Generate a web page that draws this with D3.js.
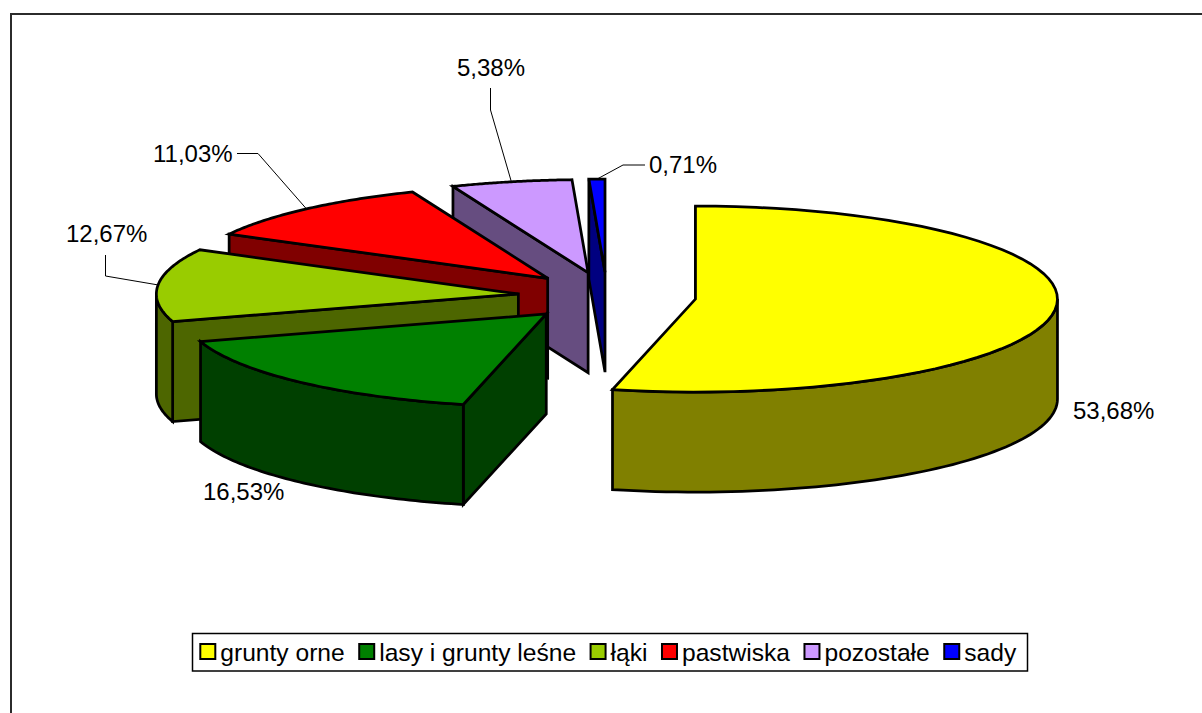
<!DOCTYPE html>
<html>
<head>
<meta charset="utf-8">
<script src="https://cdn.jsdelivr.net/npm/d3@7"></script>
<style>
    body { margin: 0; background: #fff; }
    svg { display: block; }
    text { font-family: "Liberation Sans", Arial, sans-serif; font-size: 24px; fill: #000; }
    .legend-label { font-size: 24.6px; }
</style>
</head>
<body>
<svg id="chart" width="1202" height="713"></svg>
<script>
const categories = ['grunty orne', 'lasy i grunty leśne', 'łąki', 'pastwiska', 'pozostałe', 'sady'];
const shares = [53.68, 16.53, 12.67, 11.03, 5.38, 0.71];
const colors = ['#ffff00', '#008000', '#99cc00', '#ff0000', '#cc99ff', '#0000ff'];

// label anchor (x, baseline) and the bend points of the leader line, per slice
const labelAnchors = [[1073, 419], [203, 500], [66, 242], [153, 162], [457, 76], [649, 173]];
const leaderBends = [
    [],
    [],
    [[105.5, 255], [105.5, 276]],
    [[237, 153.5], [258, 153.5]],
    [[490.5, 88], [490.5, 110]],
    [[645, 165], [623, 165]]
];

const cx = 607, cy = 296.3, rx = 362, ry = 93;
const depth = 100, explodeX = 0.246, explodeY = 0.26;

const x = d3.scaleLinear().domain([-1, 1]).range([cx - rx, cx + rx]);
const y = d3.scaleLinear().domain([-1, 1]).range([cy - ry, cy + ry]);
const fmt = d3.formatLocale({decimal: ',', thousands: ' ', grouping: [3], currency: ['', '']}).format('.2f');

const svg = d3.select('#chart');

// chart frame, open at the right and bottom of the window
svg.append('path')
    .attr('d', 'M11,713V14H1202')
    .attr('fill', 'none')
    .attr('stroke', '#2b2b2b')
    .attr('stroke-width', 2);

const slices = d3.pie().sort(null).value(d => d)(shares).map((s, i) => {
    const mid = (s.startAngle + s.endAngle) / 2;
    return {
        index: i,
        a0: s.startAngle,
        a1: s.endAngle,
        mid: mid,
        ox: explodeX * Math.sin(mid),
        oy: -explodeY * Math.cos(mid)
    };
});

// rim point of a slice at an angle, clockwise from 12 o'clock
const rim = (s, a) => [x(s.ox + Math.sin(a)), y(s.oy - Math.cos(a))];
const apex = s => [x(s.ox), y(s.oy)];
const down = p => [p[0], p[1] + depth];
const line = d3.line();
const arcPoints = (s, a0, a1) => d3.range(0, 61).map(k => rim(s, a0 + (a1 - a0) * k / 60));
const shade = c => {
    const r = d3.rgb(c);
    return d3.rgb(r.r / 2, r.g / 2, r.b / 2).formatHex();
};

const pieGroup = svg.append('g')
    .attr('stroke', '#000')
    .attr('stroke-width', 2.75)
    .attr('stroke-linejoin', 'miter');

// back to front: last slice first
slices.slice().reverse().forEach(s => {
    const g = pieGroup.append('g');
    const side = shade(colors[s.index]);
    const start = rim(s, s.a0);

    // cut face on the starting edge
    g.append('path')
        .attr('d', line([start, apex(s), down(apex(s)), down(start)]) + 'Z')
        .attr('fill', side);

    // outer wall, only the part that faces the viewer
    const w0 = Math.max(s.a0, Math.PI / 2), w1 = Math.min(s.a1, Math.PI * 1.5);
    if (w1 > w0) {
        const edge = arcPoints(s, w0, w1);
        g.append('path')
            .attr('d', line(edge.concat(edge.map(down).reverse())) + 'Z')
            .attr('fill', side);
    }

    // top
    g.append('path')
        .attr('d', line([apex(s)].concat(arcPoints(s, s.a0, s.a1))) + 'Z')
        .attr('fill', colors[s.index]);
});

// leader lines and data labels
slices.forEach(s => {
    if (leaderBends[s.index].length) {
        svg.append('path')
            .attr('d', line(leaderBends[s.index].concat([rim(s, s.mid)])))
            .attr('fill', 'none')
            .attr('stroke', '#000')
            .attr('stroke-width', 1);
    }
    svg.append('text')
        .attr('x', labelAnchors[s.index][0])
        .attr('y', labelAnchors[s.index][1])
        .text(fmt(shares[s.index]) + '%');
});

// legend
svg.append('rect')
    .attr('x', 192.5).attr('y', 633.5)
    .attr('width', 835).attr('height', 37.5)
    .attr('fill', '#fff')
    .attr('stroke', '#000')
    .attr('stroke-width', 1.5);

let legendX = 200.3;
categories.forEach((name, i) => {
    svg.append('rect')
        .attr('x', legendX).attr('y', 644)
        .attr('width', 15).attr('height', 15)
        .attr('fill', colors[i])
        .attr('stroke', '#000')
        .attr('stroke-width', 2);
    const label = svg.append('text')
        .attr('class', 'legend-label')
        .attr('x', legendX + 20)
        .attr('y', 661)
        .text(name);
    legendX += 20 + label.node().getComputedTextLength() + 14.5;
});
</script>
</body>
</html>
